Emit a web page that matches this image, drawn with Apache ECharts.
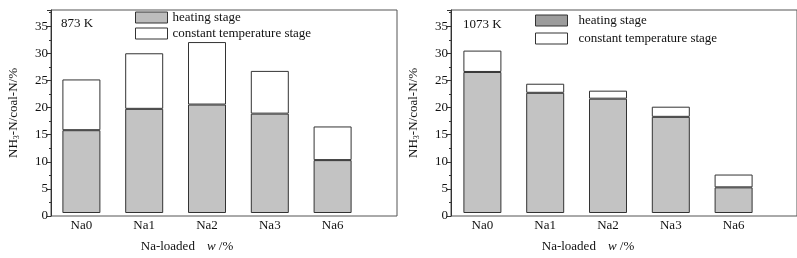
<!DOCTYPE html>
<html>
<head>
<meta charset="utf-8">
<script src="https://cdn.jsdelivr.net/npm/echarts@6/dist/echarts.min.js"></script>
<style>
  html, body { margin: 0; padding: 0; background: #fff; }
  #main { width: 797px; height: 258px; }
</style>
</head>
<body>
<div id="main"></div>
<script>
// 数据
const categories = ['Na0', 'Na1', 'Na2', 'Na3', 'Na6'];
const heating873 = [15.5, 19.5, 20.3, 18.6, 9.9];
const constant873 = [9.5, 10.4, 11.7, 8.0, 6.3];
const heating1073 = [26.4, 22.5, 21.4, 18.0, 4.8];
const constant1073 = [4.0, 1.7, 1.5, 1.9, 2.4];
const temps = ['873 K', '1073 K'];
const legendNames = ['heating stage', 'constant temperature stage'];

const FONT = 'Liberation Serif';
const textBase = { fontFamily: FONT, fontSize: 13, color: '#111' };

let myChart = echarts.init(document.getElementById('main'));

// 每个子图: 一个边框grid + 一个柱状grid
function panel(offset, barLeft) {
  return {
    frame: { left: offset + 51, top: 10, width: 346, height: 206, show: true, borderColor: '#555', borderWidth: 1, containLabel: false },
    bars: { left: barLeft, top: 10, width: 314, height: 206, containLabel: false }
  };
}
const p1 = panel(0, 50);
const p2 = panel(400, 451);

function yAxisFrame(gridIndex) {
  return {
    gridIndex: gridIndex,
    type: 'value',
    min: 0,
    max: 38,
    interval: 5,
    name: '{a|NH}{s|3}{a|-N/coal-N/%}',
    nameLocation: 'middle',
    nameGap: 30,
    nameRotate: 90,
    nameTextStyle: {
      rich: {
        a: { fontFamily: FONT, fontSize: 13, color: '#111' },
        s: { fontFamily: FONT, fontSize: 8, color: '#111', verticalAlign: 'bottom', padding: [6, 0, 0, 0] }
      }
    },
    axisLine: { show: true, lineStyle: { color: '#333' } },
    axisTick: { show: true, inside: false, length: 4, lineStyle: { color: '#333' } },
    minorTick: { show: true, splitNumber: 2, length: 2, lineStyle: { color: '#333' } },
    axisLabel: { ...textBase, margin: 3, showMaxLabel: false, formatter: v => (v % 5 === 0 ? v : '') },
    splitLine: { show: false }
  };
}
function yAxisBars(gridIndex) {
  return { gridIndex: gridIndex, type: 'value', min: 0, max: 38, show: false, splitLine: { show: false } };
}
function xAxisFrame(gridIndex) {
  return { gridIndex: gridIndex, type: 'value', show: false, splitLine: { show: false } };
}
function xAxisBars(gridIndex, shift) {
  return {
    gridIndex: gridIndex,
    type: 'category',
    data: categories,
    axisLine: { show: false },
    axisTick: { show: true, inside: true, alignWithLabel: true, length: 3, lineStyle: { color: '#333' } },
    axisLabel: { ...textBase, margin: 6 },
    name: '{a|Na-loaded}{g|}{i|w}{a| /%}',
    nameLocation: 'middle',
    nameGap: 27,
    nameTextStyle: {
      padding: [0, shift, 0, 0],
      rich: {
        a: { fontFamily: FONT, fontSize: 13, color: '#111' },
        g: { width: 12 },
        i: { fontFamily: FONT, fontSize: 13, fontStyle: 'italic', color: '#111' }
      }
    }
  };
}

function barSeries(name, data, xIdx, yIdx, color) {
  return {
    name: name,
    type: 'bar',
    stack: 'total' + xIdx,
    xAxisIndex: xIdx,
    yAxisIndex: yIdx,
    barWidth: 38,
    itemStyle: { color: color, borderColor: '#333', borderWidth: 1 },
    data: data
  };
}

function legendFor(left, top, gap, textPad, swatch) {
  return {
    orient: 'vertical',
    left: left,
    top: top,
    padding: 0,
    itemWidth: 32,
    itemHeight: 11,
    itemGap: gap,
    icon: 'rect',
    selectedMode: false,
    textStyle: { ...textBase, padding: [0, 0, 0, textPad] },
    data: [
      { name: legendNames[0], itemStyle: { color: swatch, borderColor: '#333', borderWidth: 1 } },
      { name: legendNames[1], itemStyle: { color: '#fff', borderColor: '#333', borderWidth: 1 } }
    ]
  };
}

myChart.setOption({
  backgroundColor: '#fff',
  animation: false,
  title: [
    { text: temps[0], left: 61, top: 17, padding: 0, textStyle: { ...textBase, fontWeight: 'normal' } },
    { text: temps[1], left: 463, top: 18, padding: 0, textStyle: { ...textBase, fontWeight: 'normal' } }
  ],
  legend: [
    legendFor(135, 11, 3, 0, '#bdbdbd'),
    legendFor(535, 14, 5, 6, '#9c9c9c')
  ],
  grid: [p1.frame, p1.bars, p2.frame, p2.bars],
  xAxis: [xAxisFrame(0), xAxisBars(1, 40), xAxisFrame(2), xAxisBars(3, 40)],
  yAxis: [yAxisFrame(0), yAxisBars(1), yAxisFrame(2), yAxisBars(3)],
  series: [
    barSeries(legendNames[0], heating873, 1, 1, '#c3c3c3'),
    barSeries(legendNames[1], constant873, 1, 1, '#ffffff'),
    barSeries(legendNames[0], heating1073, 3, 3, '#c3c3c3'),
    barSeries(legendNames[1], constant1073, 3, 3, '#ffffff')
  ]
});
window.onresize = myChart.resize;
</script>
</body>
</html>
